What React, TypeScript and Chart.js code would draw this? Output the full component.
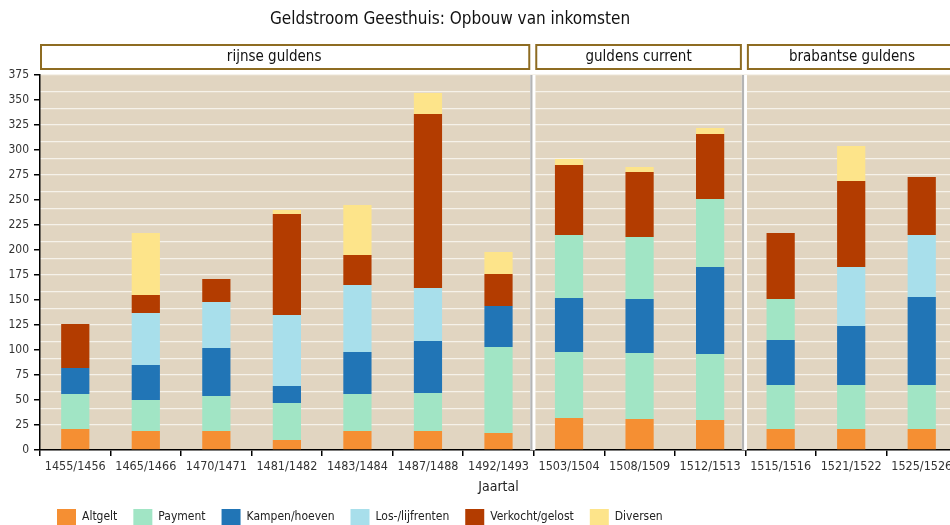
import React, { useEffect, useRef } from "react";
import { Chart, registerables } from "chart.js";
Chart.register(...registerables);

const FONT = "'Liberation Sans Narrow', 'DejaVu Sans Condensed', 'Noto Sans', sans-serif";

const categories = [
  "1455/1456", "1465/1466", "1470/1471", "1481/1482", "1483/1484", "1487/1488", "1492/1493",
  "1503/1504", "1508/1509", "1512/1513",
  "1515/1516", "1521/1522", "1525/1526",
];
const panelLabels = ["rijnse guldens", "guldens current", "brabantse guldens"];
const panelSizes = [7, 3, 3];

const altgelt = [21, 19, 19, 10, 19, 19, 17, 32, 31, 30, 21, 21, 21];
const payment = [35, 31, 35, 37, 37, 38, 86, 66, 66, 66, 44, 44, 44];
const kampen = [26, 35, 48, 17, 42, 52, 41, 54, 54, 87, 45, 59, 88];
const payment2 = [0, 0, 0, 0, 0, 0, 0, 63, 62, 68, 41, 0, 0];
const lijfrenten = [0, 52, 46, 71, 67, 53, 0, 0, 0, 0, 0, 59, 62];
const verkocht = [44, 18, 23, 101, 30, 174, 32, 70, 65, 65, 66, 86, 58];
const diversen = [0, 62, 0, 4, 50, 21, 22, 6, 5, 6, 0, 35, 0];

const yMin = 0;
const yMax = 375;
const yStep = 25;
// background grid: 22.5 equal bands measured from the top of the panel
const gridBands = 22.5;

const title = "Geldstroom Geesthuis: Opbouw van inkomsten";
const xTitle = "Jaartal";

const C_ORANGE = "#f58f33";
const C_GREEN = "#a1e5c5";
const C_BLUE = "#2175b6";
const C_LBLUE = "#a8dfeb";
const C_RED = "#b33c00";
const C_YELLOW = "#fde48a";
const C_BG = "#e1d5c1";
const C_STRIP = "#8e6c22";

const facetPlugin = {
  id: "facets",
  beforeDraw(chart: any) {
    const { ctx, chartArea } = chart;
    const bounds = getBounds(chart);
    ctx.save();
    ctx.fillStyle = "#111";
    ctx.font = `17px ${FONT}`;
    ctx.textAlign = "center";
    ctx.textBaseline = "middle";
    ctx.fillText(title, 450, 20);
    bounds.forEach((b: any, i: number) => {
      ctx.fillStyle = C_BG;
      ctx.fillRect(b.l, chartArea.top, b.r - b.l, chartArea.bottom - chartArea.top);
      ctx.fillStyle = "#fff";
      ctx.strokeStyle = C_STRIP;
      ctx.lineWidth = 2;
      ctx.fillRect(b.l + 1, 45, b.r - b.l - 2, 24);
      ctx.strokeRect(b.l + 1, 45, b.r - b.l - 2, 24);
      ctx.fillStyle = "#111";
      ctx.font = `15px ${FONT}`;
      const cx = i === 0 ? (b.l + b.r) / 2 - 11 : (b.l + Math.min(b.r, 958)) / 2;
      ctx.fillText(panelLabels[i], cx, 57);
    });
    ctx.restore();
  },
  beforeDatasetsDraw(chart: any) {
    const { ctx, chartArea } = chart;
    const bounds = getBounds(chart);
    ctx.save();
    for (let i = 1; i < bounds.length; i++) {
      const l = bounds[i - 1].r;
      const r = bounds[i].l;
      ctx.fillStyle = "#fff";
      ctx.fillRect(l, chartArea.top, r - l, chartArea.bottom - chartArea.top);
      ctx.fillStyle = "#b4b4b4";
      ctx.fillRect(l, chartArea.top, 2.2, chartArea.bottom - chartArea.top);
    }
    ctx.restore();
  },
  afterDraw(chart: any) {
    const { ctx } = chart;
    ctx.save();
    ctx.font = `12px ${FONT}`;
    ctx.textBaseline = "middle";
    ctx.textAlign = "left";
    let cx = 57;
    chart.data.datasets.forEach((ds: any) => {
      if (ds.hideInLegend) return;
      ctx.fillStyle = ds.backgroundColor;
      ctx.fillRect(cx, 509, 19, 16);
      ctx.fillStyle = "#222";
      ctx.fillText(ds.label, cx + 25, 517);
      cx += 25 + ctx.measureText(ds.label).width + 16;
    });
    ctx.restore();
  },
};

function getBounds(chart: any) {
  const { chartArea } = chart;
  const x = chart.scales.x;
  const edge = (i: number) => {
    if (i <= 0) return chartArea.left;
    if (i >= categories.length) return chartArea.right;
    return (x.getPixelForValue(i - 1) + x.getPixelForValue(i)) / 2;
  };
  const out: any[] = [];
  let start = 0;
  panelSizes.forEach((n, p) => {
    const l = edge(start);
    const r = edge(start + n);
    out.push({
      l: p === 0 ? l : l + 1.5,
      r: start + n >= categories.length ? r : r - 3.5,
    });
    start += n;
  });
  return out;
}

export default function App() {
  const ref = useRef<HTMLCanvasElement>(null);
  useEffect(() => {
    document.documentElement.style.overflow = "hidden";
    document.body.style.overflow = "hidden";
    Chart.defaults.font.family = FONT;
    const mk = (label: string, data: number[], color: string, hide = false) => ({
      label,
      data,
      xAxisID: "x",
      yAxisID: "y",
      backgroundColor: color,
      borderWidth: 0,
      categoryPercentage: 1,
      barPercentage: 0.4,
      hideInLegend: hide,
    });
    const chart = new Chart(ref.current!, {
      type: "bar",
      data: {
        labels: categories,
        datasets: [
          mk("Altgelt", altgelt, C_ORANGE),
          mk("Payment", payment, C_GREEN),
          mk("Kampen/hoeven", kampen, C_BLUE),
          mk("Payment", payment2, C_GREEN, true),
          mk("Los-/lijfrenten", lijfrenten, C_LBLUE),
          mk("Verkocht/gelost", verkocht, C_RED),
          mk("Diversen", diversen, C_YELLOW),
        ] as any,
      },
      options: {
        responsive: false,
        devicePixelRatio: 1,
        animation: false,
        layout: { padding: { top: 75, right: 1, bottom: 25, left: 0 } },
        plugins: {
          legend: { display: false },
          title: { display: false },
          tooltip: { enabled: false },
        },
        scales: {
          x: {
            stacked: true,
            offset: true,
            grid: {
              offset: true,
              drawOnChartArea: false,
              drawTicks: true,
              tickLength: 6,
              color: "#000",
              lineWidth: 1.5,
            },
            border: { display: true, color: "#000", width: 1.5 },
            ticks: {
              color: "#333",
              font: { size: 12.5 },
              padding: 3,
              maxRotation: 0,
              autoSkip: false,
            },
            title: {
              display: true,
              text: xTitle,
              color: "#222",
              font: { size: 14 },
              padding: { top: 0, bottom: 4 },
            },
            afterFit: (s: any) => {
              s.height = 50;
            },
          },
          y: {
            stacked: true,
            min: yMin,
            max: yMax,
            ticks: {
              stepSize: yStep,
              color: "#333",
              font: { size: 12 },
              padding: 5,
            },
            grid: {
              drawOnChartArea: false,
              color: "#000",
              lineWidth: 1.5,
              tickLength: 6,
              tickColor: "#000",
              tickWidth: 1.5,
            },
            border: { display: true, color: "#000", width: 1.5 },
            afterFit: (s: any) => {
              s.width = 40;
            },
          },
          yGrid: {
            type: "linear",
            axis: "y",
            position: "right",
            reverse: true,
            min: 0,
            max: gridBands,
            ticks: { display: false, stepSize: 1 },
            grid: {
              color: "#f6f2ea",
              lineWidth: 1.3,
              drawTicks: false,
            },
            border: { display: false },
            afterFit: (s: any) => {
              s.width = 0;
            },
          },
        },
      } as any,
      plugins: [facetPlugin],
    });
    return () => chart.destroy();
  }, []);
  return (
    <div style={{ position: "absolute", left: 0, top: 0, width: 958, height: 525 }}>
      <canvas ref={ref} width={958} height={525} style={{ display: "block", width: 958, height: 525 }} />
    </div>
  );
}
